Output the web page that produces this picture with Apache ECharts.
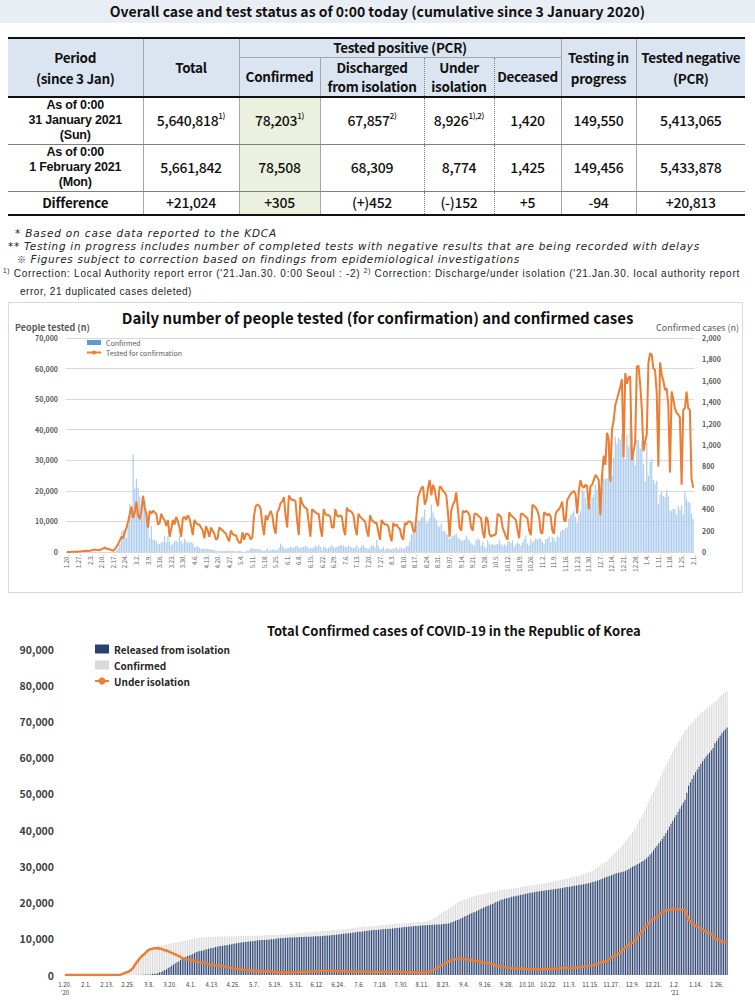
<!DOCTYPE html>
<html><head><meta charset="utf-8">
<script src="https://cdn.jsdelivr.net/npm/echarts@6/dist/echarts.min.js"></script>
<style>
html,body{margin:0;padding:0;background:#fff;}
#wrap{position:relative;width:755px;height:1008px;overflow:hidden;font-family:"Noto Sans CJK KR","Noto Sans",sans-serif;color:#111;}
#chart{position:absolute;left:0;top:0;width:755px;height:1008px;}
#band{position:absolute;left:0;top:0;width:755px;height:23px;background:#e9eef4;text-align:center;font-weight:bold;font-size:14px;line-height:23px;color:#111;z-index:2;}
#tbl{position:absolute;left:8px;top:37px;width:737px;border-collapse:collapse;table-layout:fixed;z-index:2;background:#fff;}
#tbl td{border-left:1px solid #a6a6a6;border-right:1px solid #a6a6a6;text-align:center;vertical-align:middle;padding:0;font-size:14px;font-weight:500;letter-spacing:-0.3px;line-height:17px;}
#tbl td.first{border-left:none;}
#tbl td.last{border-right:none;}
#tbl td.hd{background:#dbe5f1;font-weight:bold;font-size:13.5px;border-bottom:2px solid #111;line-height:21px;}
#tbl td.tp{border-bottom:1px solid #a6a6a6;line-height:17px;}
#tbl tr.h1 td{border-top:2px solid #111;}
#tbl tr.h1{height:19px;}
#tbl tr.h2{height:40px;}
#tbl tr.h2 td{line-height:19px;}
#tbl tr.r{height:47px;}
#tbl tr.r td{border-bottom:1px solid #7f7f7f;}
#tbl tr.d{height:24px;}
#tbl tr.d td{border-bottom:2px solid #111;}
#tbl td.dr{border-right:1px dotted #7f7f7f;}
#tbl td.dl{border-left:1px dotted #7f7f7f;}
#tbl td.g{background:#ebf1de;}
#tbl td.per{font-family:"Liberation Sans",Arial,sans-serif;font-weight:bold;font-size:12.5px;line-height:15px;letter-spacing:-0.2px;}
#tbl td.per.dif{font-family:"Noto Sans CJK KR",sans-serif;font-size:13.5px;line-height:17px;}
#tbl sup{font-size:8px;line-height:0;vertical-align:7px;}
.note{position:absolute;white-space:nowrap;color:#222;z-index:2;line-height:11px;}
.it{font-family:"DejaVu Sans",sans-serif;font-style:italic;font-size:10.5px;}
.sm{font-family:"Liberation Sans",Arial,sans-serif;font-size:10px;}
.sm sup{font-size:6.5px;line-height:0;vertical-align:4px;}
.kome{font-family:"Noto Sans CJK KR",sans-serif;font-size:9px;font-style:normal;}
</style>
</head><body>
<div id="wrap">
<div id="chart"></div>
<div id="band">Overall case and test status as of 0:00 today (cumulative since 3 January 2020)</div>
<table id="tbl">
<colgroup><col style="width:135px"><col style="width:96px"><col style="width:81px"><col style="width:104px"><col style="width:70px"><col style="width:67px"><col style="width:75px"><col style="width:109px"></colgroup>
<tr class="h1"><td rowspan="2" class="hd first">Period<br>(since 3 Jan)</td><td rowspan="2" class="hd">Total</td><td colspan="4" class="hd tp">Tested positive (PCR)</td><td rowspan="2" class="hd">Testing in<br>progress</td><td rowspan="2" class="hd last">Tested negative<br>(PCR)</td></tr>
<tr class="h2"><td class="hd">Confirmed</td><td class="hd dr">Discharged<br>from isolation</td><td class="hd dl dr">Under<br>isolation</td><td class="hd dl">Deceased</td></tr>
<tr class="r"><td class="first per">As of 0:00<br>31 January 2021<br>(Sun)</td><td>5,640,818<sup>1)</sup></td><td class="g">78,203<sup>1)</sup></td><td class="dr">67,857<sup>2)</sup></td><td class="dl dr">8,926<sup>1),2)</sup></td><td class="dl">1,420</td><td>149,550</td><td class="last">5,413,065</td></tr>
<tr class="r"><td class="first per">As of 0:00<br>1 February 2021<br>(Mon)</td><td>5,661,842</td><td class="g">78,508</td><td class="dr">68,309</td><td class="dl dr">8,774</td><td class="dl">1,425</td><td>149,456</td><td class="last">5,433,878</td></tr>
<tr class="d"><td class="first per dif">Difference</td><td>+21,024</td><td class="g">+305</td><td class="dr">(+)452</td><td class="dl dr">(-)152</td><td class="dl">+5</td><td>-94</td><td class="last">+20,813</td></tr>
</table>
<div class="note it" data-w="262" style="left:15px;top:228px;">* Based on case data reported to the KDCA</div>
<div class="note it" data-w="692" style="left:8px;top:241px;">** Testing in progress includes number of completed tests with negative results that are being recorded with delays</div>
<div class="note it" data-w="503" style="left:17px;top:254px;"><span class="kome">※</span> Figures subject to correction based on findings from epidemiological investigations</div>
<div class="note sm" data-w="737" style="left:3px;top:268px;"><sup>1)</sup> Correction: Local Authority report error ('21.Jan.30. 0:00 Seoul : -2) <sup>2)</sup> Correction: Discharge/under isolation ('21.Jan.30. local authority report</div>
<div class="note sm" data-w="172" style="left:20px;top:286px;">error, 21 duplicated cases deleted)</div>
</div>
<script>
// fit note lines to the widths they occupy in the reference
document.querySelectorAll('.note').forEach(el => {
  const target = +el.dataset.w;
  const n = el.textContent.length;
  const w = el.getBoundingClientRect().width;
  el.style.letterSpacing = ((target - w) / n).toFixed(3) + 'px';
});

// ---- tick labels ----
const midTicks = ['1.20.','1.27.','2.3.','2.10.','2.17.','2.24.','3.2.','3.9.','3.16.','3.23.','3.30.','4.6.','4.13.','4.20.','4.27.','5.4.','5.11.','5.18.','5.25.','6.1.','6.8.','6.15.','6.22.','6.29.','7.6.','7.13.','7.20.','7.27.','8.3.','8.10.','8.17.','8.24.','8.31.','9.07.','9.14.','9.21.','9.28.','10.5.','10.12.','10.19.','10.26.','11.2.','11.9.','11.16.','11.23.','11.30.','12.7.','12.14.','12.21.','12.28.','1.4.','1.11.','1.18.','1.25.','2.1.'];
const bottomTicks = ["1.20.\n'20",'2.1.','2.13.','2.25.','3.8.','3.20.','4.1.','4.13.','4.25.','5.7.','5.19.','5.31.','6.12.','6.24.','7.6.','7.18.','7.30.','8.11.','8.23.','9.4.','9.16.','9.28.','10.10.','10.22.','11.3.','11.15.','11.27.','12.9.','12.21.',"1.2.\n'21",'1.14.','1.26.'];

// ---- daily confirmed cases (20 Jan 2020 - 1 Feb 2021) ----
const confirmedDaily = [
1,0,0,0,1,0,1,1,0,0,2,5,
1,3,0,1,2,5,1,0,3,1,0,0,0,0,0,1,1,1,15,34,75,190,210,207,130,253,449,427,909,
595,686,600,516,438,518,483,367,248,131,242,114,110,107,76,74,84,93,152,87,147,98,64,76,100,104,91,146,105,78,125,
101,89,86,94,81,47,47,53,39,27,30,32,25,27,27,22,22,18,8,13,9,11,8,6,10,10,10,14,9,4,
9,6,13,8,3,2,4,12,18,34,35,27,26,29,27,19,13,15,13,32,12,20,23,25,16,19,40,79,58,39,27,
35,38,49,39,39,51,57,38,38,50,45,56,48,34,36,34,43,59,49,67,48,17,46,51,28,39,51,62,42,43,
50,54,63,63,61,46,44,63,49,45,35,44,62,33,39,61,60,39,34,26,45,63,59,41,113,58,25,28,48,18,36,
31,30,23,34,33,43,20,43,36,28,34,54,56,103,166,279,197,246,297,288,324,332,397,266,280,320,441,371,323,299,248,
235,267,195,198,168,167,119,136,156,155,176,136,121,109,106,113,153,126,110,82,70,61,110,125,114,61,95,50,38,113,
77,63,75,64,73,75,114,69,54,72,58,97,102,84,110,47,73,91,76,58,91,121,155,77,61,119,88,103,125,114,127,
124,97,75,118,125,145,89,143,126,100,146,143,191,205,208,223,230,313,343,363,386,330,271,349,382,583,569,504,450,438,
451,511,540,629,583,631,615,594,686,682,689,950,1030,718,880,1078,1014,1064,1047,1097,926,869,1092,985,1241,1132,970,808,1046,1050,967,
1029,824,657,1020,715,840,869,674,641,665,451,537,562,524,513,580,520,389,386,404,401,346,431,392,437,349,559,497,469,458,355,
305];

// ---- daily people tested for confirmation ----
const testedDaily = [
10,20,30,60,80,100,120, 150,200,250,300,350,400,350, 400,600,700,800,700,600,650,
900,1200,1500,1000,1100,800,600, 400,1000,1600,2700,3800,5000,4500,
6500,8000,10000,12500,14800,11200,13000, 16500,12000,10800,13500,18400,14500,12500,
8000,13500,12500,13500,13000,12500,9000, 9500,12500,11000,10500,8500,10500,5000,
7500,10500,9000,11500,10000,8000,5000, 11000,11500,10500,12000,11000,8500,5500,
10500,9500,9000,9000,8000,7000,4500, 8500,7000,5000,8000,7000,6000,4000,
4500,8000,7500,7000,6500,6000,4500, 3500,7000,6000,5500,5500,4000,3000,
3000,6500,4000,6000,6000,5500,4000, 5000,12000,15000,15500,15200,14000,9000,
5500,12000,10500,12000,13500,12000,8000, 6000,13000,14000,16000,16500,18000,12000,
8000,18500,17500,17000,17000,16500,10000, 5500,18000,16000,15000,14500,14000,9500,
5000,14000,13500,13000,12500,12500,8000, 5000,14000,12500,12000,12000,11500,8000,
8000,14000,12000,11500,12000,11500,7500, 5500,14500,13500,13500,13000,12000,8000,
5500,12500,11500,11000,10500,10000,7000, 5000,12000,10500,10000,9500,9500,6500,
4000,10500,9500,9000,9000,8500,5500, 3500,9500,8500,9000,8000,7500,5000,
4000,9500,9000,10000,10000,9500,7000, 6500,12000,18000,19500,21000,21400,15500,
17000,21000,23600,18500,22000,20500,17000, 15000,21500,21000,20000,19500,18500,13000,
5000,13500,15500,16500,19500,14000,8000, 7000,13500,13000,13500,13000,12000,8000,
7000,12500,12500,12000,11500,11000,6500, 4500,11500,10500,6000,5000,5500,5500,
6000,12500,12000,11500,8000,6500,5000, 4000,13000,12000,11500,11000,10500,7000,
4500,12500,12500,12000,11500,11000,7000, 5500,15500,15000,14500,13500,11500,6500,
6000,13000,12500,12000,12500,11500,7000, 6000,12500,13500,14000,15000,16500,10500,
10000,17000,18000,19000,19500,20000,19000, 12500,20000,23500,21500,21000,22000,21500,
14000,21500,22000,23500,25200,24500,23500, 12000,25000,31500,28500,39000,37000,23000,
40000,43000,48000,50000,52000,54000,56500, 31000,58500,55000,57000,57500,30000,33000,
36000,60500,61000,55000,47000,33000,36000, 38500,62000,65000,64500,60000,59500,52000,
28000,62000,58000,56000,53000,53500,48000, 26000,52500,50000,47000,45500,45000,44000,
22000,46500,47000,52500,47000,46500,24000,
21000];

// ---- cumulative confirmed ----
const cumConfirmed = [
1,1,1,1,2,2,3,4,4,4,6,11,
12,15,15,16,18,23,24,24,27,28,28,28,28,28,28,29,30,31,46,80,155,345,555,762,892,1145,1594,2021,2930,
3525,4212,4812,5328,5766,6284,6767,7134,7382,7513,7755,7869,7979,8086,8162,8236,8320,8413,8565,8652,8799,8897,8961,9037,9137,9241,9332,9478,9583,9661,9786,
9887,9976,10062,10156,10237,10284,10331,10384,10423,10450,10480,10512,10537,10564,10591,10613,10635,10653,10661,10674,10683,10694,10702,10708,10718,10728,10738,10752,10761,10765,
10774,10780,10793,10801,10804,10806,10810,10822,10840,10874,10909,10936,10962,10991,11018,11037,11050,11065,11078,11110,11122,11142,11165,11190,11206,11225,11265,11344,11402,11441,11468,
11503,11541,11590,11629,11668,11719,11776,11814,11852,11902,11947,12003,12051,12085,12121,12155,12198,12257,12306,12373,12421,12438,12484,12535,12563,12602,12653,12715,12757,12800,
12850,12904,12967,13030,13091,13137,13181,13244,13293,13338,13373,13417,13479,13512,13551,13612,13672,13711,13745,13771,13816,13879,13938,13979,14092,14150,14175,14203,14251,14269,14305,
14336,14366,14389,14423,14456,14499,14519,14562,14598,14626,14660,14714,14770,14873,15039,15318,15515,15761,16058,16346,16670,17002,17399,17665,17945,18265,18706,19077,19400,19699,19947,
20182,20449,20644,20842,21010,21177,21296,21432,21588,21743,21919,22055,22176,22285,22391,22504,22657,22783,22893,22975,23045,23106,23216,23341,23455,23516,23611,23661,23699,23812,
23889,23952,24027,24091,24164,24239,24353,24422,24476,24548,24606,24703,24805,24889,24988,25035,25108,25199,25275,25333,25424,25543,25698,25775,25836,25955,26043,26146,26271,26385,26511,
26635,26732,26807,26925,27050,27195,27284,27427,27553,27653,27799,27942,28133,28338,28546,28769,28998,29311,29654,30017,30403,30733,31004,31353,31735,32318,32887,33375,33824,34201,
34652,35163,35703,36332,36915,37546,38161,38755,39432,40098,40786,41736,42766,43484,44364,45442,46453,47515,48570,49665,50591,51460,52550,53533,54770,55902,56872,57680,58725,59773,60740,
61769,62593,63244,64264,64979,65818,66686,67358,67999,68663,69114,69650,70212,70728,71241,71820,72340,72729,73115,73518,73918,74262,74692,75084,75521,75875,76429,76926,77395,77850,78205,
78508];

// ---- cumulative released from isolation ----
const released = [
0,0,0,0,0,0,0,0,0,0,0,0,
0,0,0,0,1,2,2,2,3,4,4,7,7,7,7,9,10,12,12,16,16,16,18,18,22,22,22,24,27,
30,30,34,41,88,108,118,130,166,247,288,333,510,714,834,1137,1407,1540,1947,2233,2612,2909,3166,3507,3730,4144,4528,4811,5033,5228,5408,
5567,5828,6021,6325,6463,6598,6694,6776,6973,7117,7243,7368,7447,7534,7757,7829,7937,7977,8042,8114,8213,8277,8411,8501,8635,8717,8764,8854,8922,9059,
9072,9123,9183,9217,9283,9333,9419,9484,9568,9610,9632,9670,9695,9720,9762,9821,9851,9888,9938,10066,10135,10162,10194,10226,10275,10295,10340,10363,10398,10405,10422,
10446,10467,10499,10506,10531,10552,10564,10589,10611,10654,10669,10694,10718,10730,10760,10802,10856,10904,10930,10969,11020,11054,11094,11172,11222,11317,11364,11429,11470,11537,
11613,11684,11759,11811,11848,11914,11970,12019,12064,12129,12204,12282,12348,12396,12434,12456,12519,12556,12610,12655,12698,12721,12759,12793,12837,12905,12959,13007,13064,13132,13183,
13233,13280,13343,13376,13415,13476,13500,13543,13584,13627,13642,13702,13721,13745,13788,13817,13863,13901,13917,13934,13954,14008,14063,14120,14164,14219,14423,14570,14803,15001,15198,
15356,15583,15800,16146,16297,16560,16846,17023,17226,17417,17661,17903,18135,18393,18659,18802,19031,19158,19361,19590,19811,20131,20317,20486,20769,20878,21036,21174,21284,21397,
21590,21666,21752,21864,21959,22054,22180,22313,22415,22525,22615,22699,22752,22863,22954,23030,23087,23160,23240,23300,23375,23433,23524,23594,23667,23730,23781,23878,23967,24042,24136,
24219,24294,24375,24461,24543,24637,24716,24799,24883,24949,25032,25135,25245,25357,25494,25615,25734,25883,26054,26236,26450,26648,26845,27053,27192,27383,27571,27753,27930,28075,
28226,28327,28463,28583,28759,28984,29297,29589,29860,30118,30399,30643,30866,31172,31452,31808,32208,32656,33196,33767,34469,35114,35687,36353,36977,37594,38353,39160,39966,40894,41740,
42602,43451,44182,45083,45872,46791,47640,48393,50318,52263,53189,54110,55147,55943,56746,57503,58305,58980,59651,60335,60918,61446,62064,62647,63972,64615,65351,66040,66745,67336,67859,
68309];

// ---- under isolation ----
const isolation = [
1,1,1,1,2,2,3,4,4,4,6,11,
12,15,15,16,17,21,22,22,24,24,24,21,21,21,21,20,20,19,34,63,137,327,531,736,860,1111,1559,1981,2886,
3478,4160,4750,5255,5643,6134,6605,6954,7165,7212,7407,7470,7402,7300,7253,7024,6832,6789,6527,6325,6085,5884,5684,5410,5281,4966,4665,4523,4398,4275,4216,
4155,3979,3867,3654,3591,3500,3445,3408,3246,3125,3026,2930,2873,2808,2609,2555,2468,2444,2385,2324,2233,2179,2051,1967,1843,1769,1731,1654,1593,1459,
1454,1407,1360,1332,1267,1218,1135,1082,1016,1008,1021,1008,1008,1011,996,954,937,914,877,781,723,716,705,698,664,661,656,712,735,766,776,
787,803,819,850,864,894,939,951,965,972,1002,1032,1056,1078,1084,1075,1063,1073,1096,1124,1121,1104,1109,1082,1059,1003,1007,1004,1005,981,
955,938,925,936,959,938,926,940,944,922,881,846,842,827,828,867,860,861,840,820,822,861,882,888,957,947,918,897,888,837,822,
802,785,745,746,739,721,717,715,710,694,713,707,744,823,946,1196,1346,1554,1834,2103,2407,2685,3027,3236,3471,3734,3970,4193,4281,4377,4425,
4502,4540,4515,4365,4379,4281,4109,4065,4016,3976,3903,3794,3680,3529,3365,3332,3254,3248,3154,3001,2848,2587,2506,2460,2286,2237,2174,2086,2009,2005,
1886,1871,1858,1807,1784,1763,1750,1684,1636,1595,1559,1571,1619,1592,1595,1561,1576,1592,1582,1578,1593,1653,1717,1724,1712,1768,1802,1807,1843,1880,1911,
1950,1970,1960,1990,2030,2080,2090,2150,2190,2220,2280,2320,2400,2490,2560,2660,2770,2930,3100,3280,3450,3580,3650,3790,4030,4420,4800,5100,5370,5600,
5900,6300,6700,7200,7600,8000,8300,8600,9000,9400,9800,10500,11300,11700,12300,13000,13600,14200,14700,15200,15400,15600,16100,16400,17000,17500,17700,17700,17900,18000,18100,
18250,18200,18100,18200,18100,18000,18000,17900,16600,15300,14800,14400,13900,13600,13300,13100,12800,12500,12200,11900,11700,11500,11300,11100,10200,9900,9700,9500,9250,9100,8926,
8774];

// categories: one per day from 20 Jan 2020
const days = [];
for (let i = 0; i < confirmedDaily.length; i++) {
  const d = new Date(2020, 0, 20 + i);
  days.push((d.getMonth() + 1) + '.' + d.getDate() + '.');
}
[testedDaily, cumConfirmed, released, isolation].forEach((a, k) => {
  if (a.length !== days.length) throw new Error('length mismatch ' + k + ': ' + a.length + ' vs ' + days.length);
});

const FONT = '"Noto Sans CJK KR","Noto Sans",sans-serif';
const fmt = v => Number(v).toLocaleString('en-US');

const chart = echarts.init(document.getElementById('chart'), null, {renderer: 'svg'});
chart.setOption({
  animation: false,
  textStyle: {fontFamily: FONT},
  title: [
    {text: 'Daily number of people tested (for confirmation) and confirmed cases', left: 'center', top: 310, padding: 0,
     textStyle: {fontSize: 15, fontWeight: 'bold', color: '#111', fontFamily: FONT}},
    {text: 'Total Confirmed cases of COVID-19 in the Republic of Korea', left: 267, top: 624, padding: 0,
     textStyle: {fontSize: 13, fontWeight: 'bold', color: '#111', fontFamily: FONT}}
  ],
  legend: [
    {left: 86, top: 339, orient: 'vertical', itemWidth: 14, itemHeight: 5, itemGap: 3, padding: 0,
     textStyle: {fontSize: 7, color: '#595959', fontFamily: FONT},
     data: [{name: 'Confirmed', icon: 'rect', itemStyle: {color: '#5b9bd5'}}, {name: 'Tested for confirmation'}]},
    {left: 94, top: 644, orient: 'vertical', itemWidth: 14, itemHeight: 9, itemGap: 6, padding: 0,
     textStyle: {fontSize: 10, fontWeight: 'bold', color: '#262626', fontFamily: FONT},
     formatter: n => n.trim(),
     data: [{name: 'Released from isolation', icon: 'rect'}, {name: 'Confirmed ', icon: 'rect'}, {name: 'Under isolation'}]}
  ],
  grid: [
    {left: 66, top: 338, width: 628, height: 214},
    {left: 64, top: 649, width: 664, height: 326}
  ],
  xAxis: [
    {gridIndex: 0, type: 'category', data: days, axisLine: {lineStyle: {color: '#d9d9d9'}}, axisTick: {show: false},
     axisLabel: {interval: 6, rotate: 90, fontSize: 6, color: '#595959', margin: 3, formatter: (v, i) => midTicks[i / 7] || ''}},
    {gridIndex: 1, type: 'category', data: days, axisLine: {show: false}, axisTick: {show: false},
     axisLabel: {interval: 11, fontSize: 6, color: '#404040', margin: 5, lineHeight: 8, formatter: (v, i) => bottomTicks[i / 12] || ''}}
  ],
  yAxis: [
    {gridIndex: 0, type: 'value', min: 0, max: 70000, interval: 10000, position: 'left',
     axisLine: {show: false}, axisTick: {show: false}, splitLine: {lineStyle: {color: '#d9d9d9'}},
     axisLabel: {fontSize: 7, fontWeight: 'bold', color: '#595959', margin: 8, formatter: fmt}},
    {gridIndex: 0, type: 'value', min: 0, max: 2000, interval: 200, position: 'right',
     axisLine: {show: false}, axisTick: {show: false}, splitLine: {show: false},
     axisLabel: {fontSize: 7, fontWeight: 'bold', color: '#595959', margin: 8, formatter: fmt}},
    {gridIndex: 1, type: 'value', min: 0, max: 90000, interval: 10000,
     axisLine: {show: false}, axisTick: {show: false}, splitLine: {show: false},
     axisLabel: {fontSize: 10.5, fontWeight: 'bold', color: '#404040', margin: 10, formatter: fmt}}
  ],
  series: [
    {name: 'Confirmed', type: 'bar', xAxisIndex: 0, yAxisIndex: 1, data: confirmedDaily, barCategoryGap: '25%',
     itemStyle: {color: '#aecdee'}},
    {name: 'Tested for confirmation', type: 'line', xAxisIndex: 0, yAxisIndex: 0, data: testedDaily, symbol: 'none',
     lineStyle: {color: '#ed7d31', width: 2}, itemStyle: {color: '#ed7d31'}},
    {name: 'Confirmed ', type: 'bar', xAxisIndex: 1, yAxisIndex: 2, data: cumConfirmed, barGap: '-100%', barCategoryGap: '45%',
     itemStyle: {color: '#d9d9d9'}},
    {name: 'Released from isolation', type: 'bar', xAxisIndex: 1, yAxisIndex: 2, data: released, barGap: '-100%', barCategoryGap: '45%',
     itemStyle: {color: '#2a4273'}},
    {name: 'Under isolation', type: 'line', xAxisIndex: 1, yAxisIndex: 2, data: isolation, symbol: 'none',
     lineStyle: {color: '#ed7d31', width: 2.5}, itemStyle: {color: '#ed7d31'}}
  ],
  graphic: [
    {type: 'rect', shape: {x: 8.5, y: 302.5, width: 734, height: 290}, style: {fill: 'none', stroke: '#d9d9d9', lineWidth: 1}, silent: true, z: -10},
    {type: 'text', left: 15, top: 323, style: {text: 'People tested (n)', fontSize: 9, fontWeight: 'bold', fill: '#595959', fontFamily: FONT}},
    {type: 'text', left: 656, top: 323, style: {text: 'Confirmed cases (n)', fontSize: 9, fill: '#595959', fontFamily: FONT}}
  ]
});
</script>
</body></html>
